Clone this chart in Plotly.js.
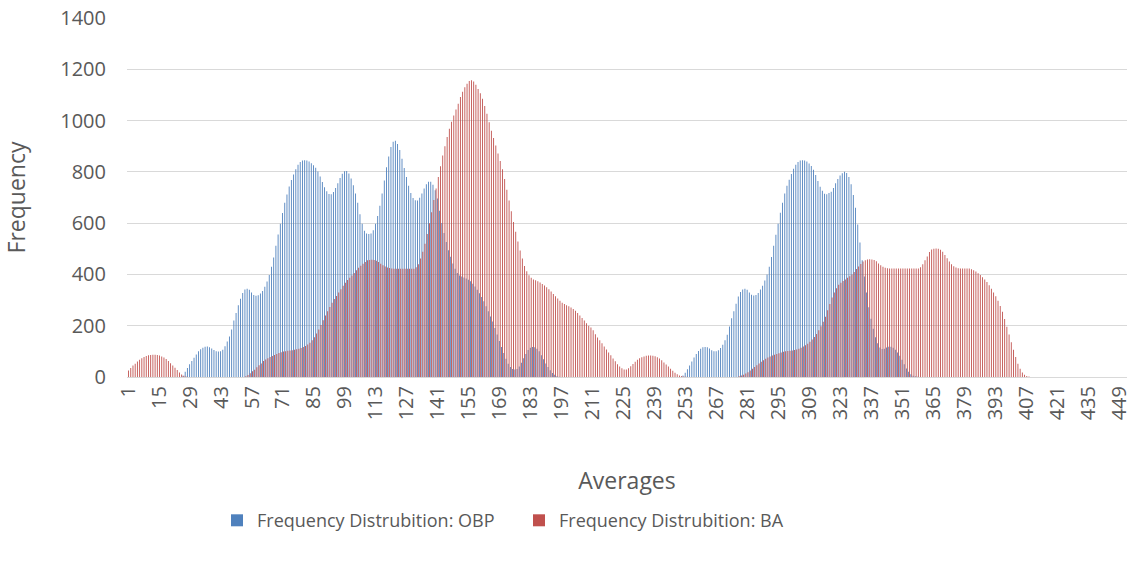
<!DOCTYPE html>
<html>
<head>
<meta charset="utf-8">
<script src="https://cdn.plot.ly/plotly-3.0.1.min.js"></script>
<style>html,body{margin:0;padding:0;background:#fff;}#chart{width:1134px;height:564px;}</style>
</head>
<body>
<div id="chart"></div>
<script>
// Category labels 1..452 (the "Averages" bins)
const categoryCount = 452;
const categories = [];
for (let i = 1; i <= categoryCount; i++) categories.push(i);

const tickValues = [1,15,29,43,57,71,85,99,113,127,141,155,169,183,197,211,225,239,253,267,281,295,309,323,337,351,365,379,393,407,421,435,449];

const seriesNames = ["Frequency Distrubition: OBP", "Frequency Distrubition: BA"];

// Frequency Distrubition: OBP
const obpFreq = [
0,0,0,0,0,0,0,0,0,0,
0,0,0,0,0,0,0,0,0,0,
0,0,0,0,0,5,20,35,50,62,
75,88,100,108,114,118,119,116,111,105,
100,99,100,106,120,138,158,185,220,250,
280,305,328,341,344,340,330,320,317,319,
326,335,352,372,398,430,466,512,556,598,
640,680,712,743,768,790,810,828,838,844,
845,844,840,834,826,816,801,782,760,740,
724,714,713,721,737,756,776,793,802,803,
794,774,748,716,680,635,598,570,560,558,
560,572,598,628,668,716,766,818,860,897,
917,921,909,885,851,815,780,746,718,698,
689,688,699,716,735,752,761,761,750,728,
696,648,601,562,526,494,469,443,422,406,
396,392,388,384,379,373,364,353,340,327,
312,295,276,256,236,216,191,166,140,117,
94,71,52,39,31,29,31,41,56,73,
90,105,114,117,116,110,100,85,69,53,
39,26,16,9,3,1,0,0,0,0,
0,0,0,0,0,0,0,0,0,0,
0,0,0,0,0,0,0,0,0,0,
0,0,0,0,0,0,0,0,0,0,
0,0,0,0,0,0,0,0,0,0,
0,0,0,0,0,0,0,0,0,0,
0,6,17,30,45,60,76,90,101,110,
116,117,116,111,104,100,100,104,113,126,
143,165,197,229,256,286,314,331,341,344,
340,330,321,318,320,328,341,356,376,400,
430,468,512,555,598,641,680,716,746,769,
792,812,828,838,844,845,844,840,833,823,
808,788,764,742,726,715,713,718,722,737,
756,772,786,795,800,796,780,752,710,660,
595,525,455,392,330,272,227,188,155,132,
115,109,110,115,118,118,114,106,96,83,
67,50,33,20,11,5,3,1,0,0,
0,0,0,0,0,0,0,0,0,0,
0,0,0,0,0,0,0,0,0,0,
0,0,0,0,0,0,0,0,0,0,
0,0,0,0,0,0,0,0,0,0,
0,0,0,0,0,0,0,0,0,0,
0,0,0,0,0,0,0,0,0,0,
0,0,0,0,0,0,0,0,0,0,
0,0,0,0,0,0,0,0,0,0,
0,0,0,0,0,0,0,0,0,0,
0,0
];

// Frequency Distrubition: BA
const baFreq = [
25,35,45,52,60,67,73,78,82,85,
86,87,87,86,84,80,76,70,62,54,
45,36,27,18,10,5,2,0,0,0,
0,0,0,0,0,0,0,0,0,0,
0,0,0,0,0,0,0,0,0,0,
0,0,0,3,8,15,22,28,38,46,
53,62,68,73,78,82,86,90,94,97,
99,100,102,103,104,106,108,110,113,117,
121,127,134,143,155,170,185,203,221,240,
256,273,290,304,316,330,342,356,368,378,
387,396,406,416,426,434,442,448,455,456,
457,456,453,448,442,436,431,427,425,423,
422,422,422,422,422,422,422,422,422,422,
428,440,462,488,520,558,600,642,690,735,
780,822,864,900,936,968,995,1020,1043,1066,
1092,1112,1130,1144,1154,1157,1152,1140,1123,1107,
1085,1057,1027,993,960,932,903,872,842,810,
772,730,688,646,604,566,528,493,462,433,
412,397,387,380,377,373,369,363,357,350,
342,333,324,315,306,297,290,285,280,276,
271,265,258,250,240,230,220,210,200,193,
182,167,154,143,132,119,107,96,85,72,
61,50,41,34,29,29,34,42,51,59,
67,73,77,80,83,84,84,83,81,77,
72,65,57,49,41,32,24,17,11,6,
4,2,1,0,0,0,0,0,0,0,
0,0,0,0,0,0,0,0,0,0,
0,0,0,0,0,0,3,6,9,14,
19,25,32,39,46,53,59,65,71,76,
80,84,87,90,93,96,98,100,101,102,
103,105,107,110,114,119,124,130,137,146,
156,168,182,198,215,235,260,285,310,330,
346,360,368,374,380,387,393,400,409,421,
431,441,450,455,458,459,458,456,451,443,
436,430,426,424,423,423,423,423,423,423,
423,423,423,423,423,423,423,423,428,440,
455,470,487,497,500,501,500,496,488,476,
463,450,440,432,427,424,423,423,423,423,
423,420,416,411,405,398,389,380,370,358,
344,330,315,297,277,254,226,196,166,136,
106,78,52,32,18,9,4,2,0,0,
0,0,0,0,0,0,0,0,0,0,
0,0,0,0,0,0,0,0,0,0,
0,0,0,0,0,0,0,0,0,0,
0,0,0,0,0,0,0,0,0,0,
0,0
];

const colors = ["#4F81BD", "#C0504D"];
const fontFamily = "'Open Sans', 'Noto Sans', sans-serif";
const textColor = "#595959";
const gridColor = "#D9D9D9";

const traces = [
  { type: "bar", name: seriesNames[0], x: categories, y: obpFreq, marker: { color: colors[0], line: { width: 0 } }, hoverinfo: "x+y" },
  { type: "bar", name: seriesNames[1], x: categories, y: baFreq, marker: { color: colors[1], line: { width: 0 } }, hoverinfo: "x+y" }
];

const layout = {
  width: 1134,
  height: 564,
  margin: { l: 127, r: 7, t: 18, b: 187, pad: 0 },
  paper_bgcolor: "#ffffff",
  plot_bgcolor: "#ffffff",
  font: { family: fontFamily, color: textColor, size: 18 },
  barmode: "group",
  bargap: 0.2,
  bargroupgap: 0,
  showlegend: true,
  legend: {
    orientation: "h",
    x: 0.09, xanchor: "left",
    y: -0.40, yanchor: "middle",
    font: { family: fontFamily, size: 18, color: textColor },
    itemwidth: 30,
    entrywidth: 257
  },
  xaxis: {
    type: "linear",
    range: [0.5, categoryCount + 0.5],
    tickmode: "array",
    tickvals: tickValues,
    ticktext: tickValues.map(String),
    tickangle: -90,
    ticks: "",
    showgrid: false,
    zeroline: false,
    showline: true,
    linecolor: gridColor,
    linewidth: 1,
    tickfont: { family: fontFamily, size: 20, color: textColor },
    title: { text: "Averages", font: { family: fontFamily, size: 23, color: textColor }, standoff: 53 },
    fixedrange: true
  },
  yaxis: {
    range: [0, 1400],
    tickmode: "linear",
    tick0: 0,
    dtick: 200,
    ticks: "",
    showgrid: true,
    gridcolor: gridColor,
    gridwidth: 1,
    zeroline: false,
    showline: false,
    ticklabelstandoff: 20,
    tickfont: { family: fontFamily, size: 20, color: textColor },
    title: { text: "Frequency", font: { family: fontFamily, size: 23, color: textColor }, standoff: 28 },
    fixedrange: true
  }
};

Plotly.newPlot("chart", traces, layout, { displayModeBar: false, staticPlot: true });
</script>
</body>
</html>
